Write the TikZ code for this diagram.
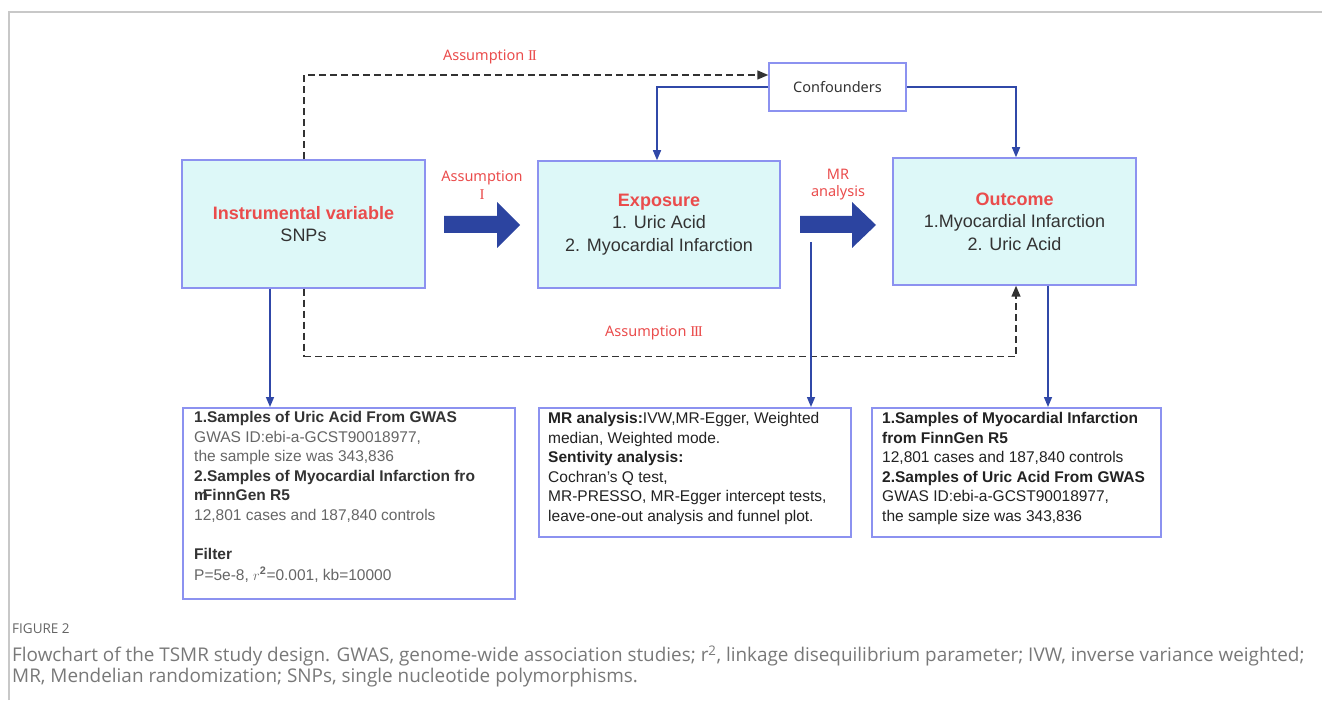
\documentclass[tikz,border=0pt]{standalone}
\usepackage{fontspec}
\setmainfont{Liberation Sans}
\newfontfamily\lblfont{Noto Sans}
\newfontfamily\numfont{Liberation Serif}
\newfontfamily\capfont{Open Sans}
\usetikzlibrary{arrows.meta}
\definecolor{boxfill}{RGB}{221,248,248}
\definecolor{boxline}{RGB}{140,146,240}
\definecolor{conn}{RGB}{48,72,168}
\definecolor{bigarrow}{RGB}{44,68,160}
\definecolor{redtxt}{RGB}{234,76,76}
\definecolor{dashc}{RGB}{50,50,50}
\definecolor{txtdark}{RGB}{34,34,34}
\definecolor{txtmid}{RGB}{51,51,51}
\definecolor{txtgrey}{RGB}{102,102,102}
\definecolor{framec}{RGB}{200,200,200}
\definecolor{capgrey}{RGB}{120,120,120}
\definecolor{capdark}{RGB}{100,100,100}
\newcommand{\rnI}{{\numfont\fontsize{15}{15}\selectfont I}}
\newcommand{\rnII}{{\numfont\fontsize{15}{15}\selectfont I\kern-1.2pt I}}
\newcommand{\rnIII}{{\numfont\fontsize{15}{15}\selectfont I\kern-1.2pt I\kern-1.2pt I}}
\tikzset{
  mainbox/.style={draw=boxline, fill=boxfill, line width=1.5pt, inner sep=0pt, align=center,
    text=txtmid, font=\fontsize{18}{22.5}\selectfont},
  confbox/.style={draw=boxline, fill=white, line width=1.5pt, inner sep=0pt,
    text=txtmid, font=\lblfont\fontsize{14.5}{17}\selectfont},
  smallbox/.style={draw=boxline, fill=white, line width=1.5pt, inner sep=0pt, anchor=north west},
  btext/.style={anchor=north west, inner sep=0pt, align=left, font=\fontsize{15.5}{19.6}\selectfont},
  redlbl/.style={text=redtxt, align=center, inner sep=0pt, font=\lblfont\fontsize{14.5}{17.5}\selectfont},
  bluearrow/.style={draw=conn, line width=1.5pt, -{Triangle[length=10pt,width=8pt]}},
  dasharrow/.style={draw=dashc, line width=1.5pt, dash pattern=on 7pt off 4pt, -{Triangle[length=11pt,width=9pt]}},
  dashline/.style={draw=dashc, line width=1.5pt, dash pattern=on 7pt off 4pt},
  bigarr/.style={fill=bigarrow, draw=none},
  captxt/.style={anchor=west, inner sep=0pt, text=capgrey}
}
\begin{document}
\begin{tikzpicture}[x=1pt,y=-1pt]
\useasboundingbox (0,0) rectangle (1322,708);
% frame
\draw[framec, line width=1.2pt] (9,700) -- (9,12) -- (1322,12);

% main boxes
\node[mainbox, minimum width=243pt, minimum height=128pt] (iv) at (303.5,224)
  {{\color{redtxt}\bfseries Instrumental variable}\\ SNPs};
\node[mainbox, minimum width=242pt, minimum height=127pt] (expo) at (659,224.5)
  {{\color{redtxt}\bfseries Exposure}\\ 1. Uric Acid\\ 2. Myocardial Infarction};
\node[mainbox, minimum width=243pt, minimum height=127pt] (outc) at (1014.5,221.5)
  {{\color{redtxt}\bfseries Outcome}\\ 1.Myocardial Infarction\\ 2. Uric Acid};
\node[confbox, minimum width=137pt, minimum height=48pt] (conf) at (837.5,87) {Confounders};

% big arrows
\fill[bigarr] (444,216) -- (497,216) -- (497,202) -- (520,225) -- (497,248) -- (497,233) -- (444,233) -- cycle;
\fill[bigarr] (800,216) -- (852,216) -- (852,202) -- (876,225) -- (852,248) -- (852,233) -- (800,233) -- cycle;

% labels
\node[redlbl] (a1) at (482,185) {Assumption\\\rnI};
\node[redlbl] (mr) at (838,184.5) {MR\\analysis};
\node[redlbl] (a2) at (490,57) {Assumption \rnII};
\node[redlbl] (a3) at (654,333) {Assumption \rnIII};

% bottom boxes
\node[smallbox, minimum width=332pt, minimum height=191pt] (b1) at (182,407) {};
\node[smallbox, minimum width=312pt, minimum height=129pt] (b2) at (538,407) {};
\node[smallbox, minimum width=289pt, minimum height=129pt] (b3) at (871,407) {};

\node[btext, text=txtgrey] (b1t) at (194,411) {%
{\color{txtmid}\bfseries 1.Samples of Uric Acid From GWAS}\\
GWAS ID:ebi-a-GCST90018977,\\
the sample size was 343,836\\
{\color{txtmid}\bfseries 2.Samples of Myocardial Infarction fro}\\
{\color{txtmid}\bfseries m\kern-5pt FinnGen R5}\\
12,801 cases and 187,840 controls\\[19.5pt]
{\color{txtmid}\bfseries Filter}\\[1pt]
P=5e-8, $r^{\mathbf{2}}$=0.001, kb=10000};

\node[btext, text=txtdark] (b2t) at (548,412) {%
{\bfseries MR analysis:}IVW,MR-Egger, Weighted\\
median, Weighted mode.\\
{\bfseries Sentivity analysis:}\\
Cochran's Q test,\\
MR-PRESSO, MR-Egger intercept tests,\\
leave-one-out analysis and funnel plot.};

\node[btext, text=txtdark] (b3t) at (882,412) {%
{\bfseries 1.Samples of Myocardial Infarction}\\
{\bfseries from FinnGen R5}\\
12,801 cases and 187,840 controls\\
{\bfseries 2.Samples of Uric Acid From GWAS}\\
GWAS ID:ebi-a-GCST90018977,\\
the sample size was 343,836};

% connectors
\draw[dasharrow] ([xshift=0.5pt]iv.north) |- ([yshift=12pt]conf.west);
\draw[bluearrow] (conf.west) -| ([xshift=-2pt]expo.north);
\draw[bluearrow] (conf.east) -| ([xshift=1.5pt]outc.north);
\draw[dashline] ([xshift=0.5pt]iv.south) -- ++(0,68) coordinate (dl);
\draw[dasharrow] (dl) -| ([xshift=1.5pt]outc.south);
\draw[bluearrow] ([xshift=-33.5pt]iv.south) -- ([xshift=-33.5pt]iv.south |- b1.north);
\coordinate (mrstart) at (811,242);
\draw[bluearrow] (mrstart) -- (mrstart |- b2.north);
\draw[bluearrow] ([xshift=33.5pt]outc.south) -- ([xshift=33.5pt]outc.south |- b3.north);

% caption
\node[captxt, text=capdark, font=\capfont\fontsize{13.5}{16}\selectfont] (fig) at (12,629) {FIGURE 2};
\node[captxt, font=\capfont\fontsize{18.9}{22}\selectfont] (cap1) at (12,656) {Flowchart of the TSMR study design. GWAS, genome-wide association studies; r\textsuperscript{2}, linkage disequilibrium parameter; IVW, inverse variance weighted;};
\node[captxt, font=\capfont\fontsize{18.9}{22}\selectfont] (cap2) at (12,678) {MR, Mendelian randomization; SNPs, single nucleotide polymorphisms.};
\end{tikzpicture}
\end{document}
